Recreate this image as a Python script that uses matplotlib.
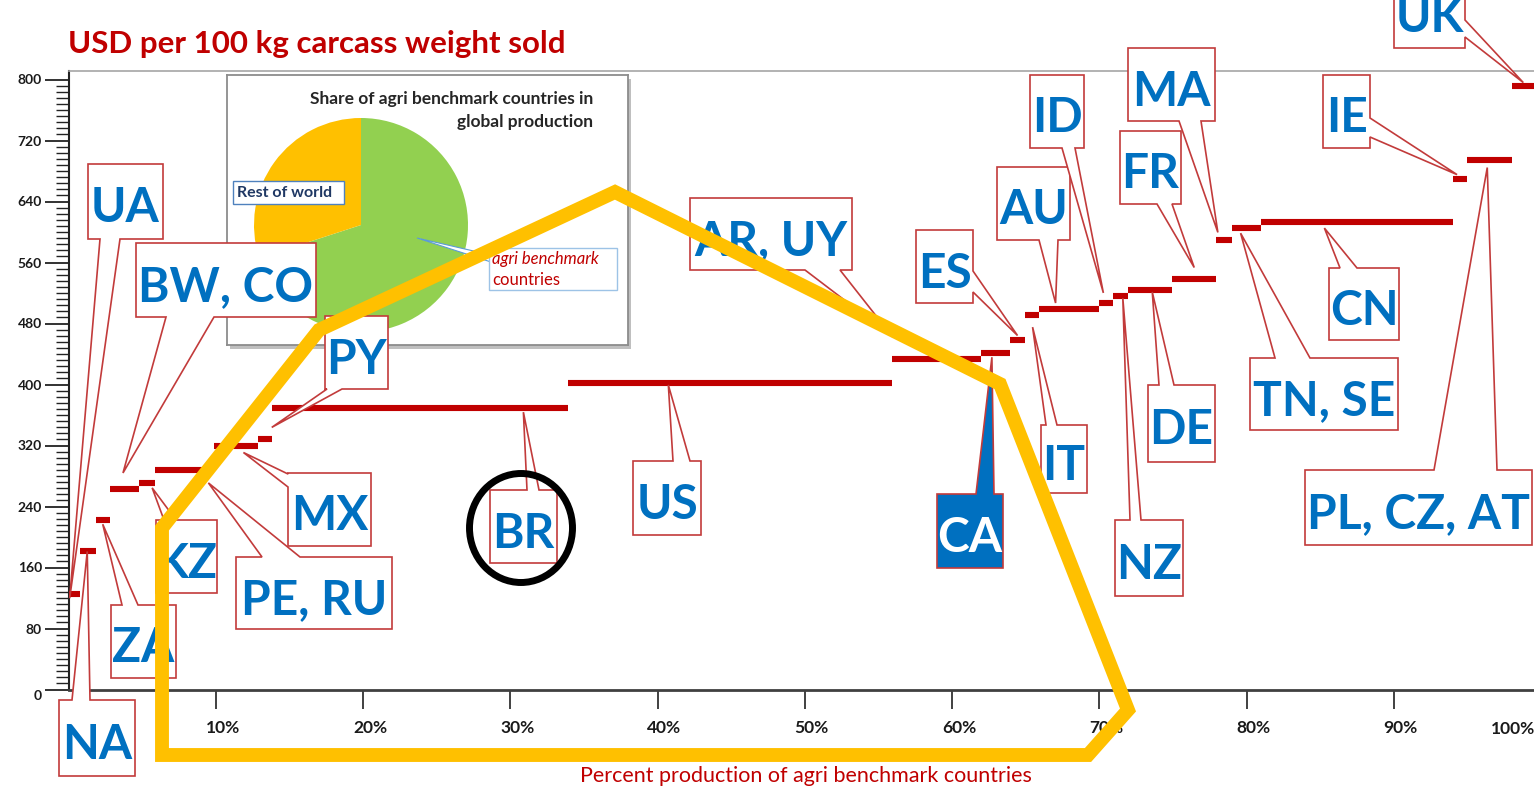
import numpy as np
import matplotlib
matplotlib.use('Agg')
import matplotlib.pyplot as plt
import matplotlib.transforms as mtransforms
from matplotlib.patches import Polygon, Ellipse, Rectangle

# data
countries = ['UA', 'NA', 'ZA', 'BW, CO', 'KZ', 'PE, RU', 'MX', 'PY', 'BR', 'US',
             'AR, UY', 'CA', 'ES', 'IT', 'AU', 'ID', 'NZ', 'DE', 'FR', 'MA',
             'TN, SE', 'CN', 'IE', 'PL, CZ, AT', 'UK']
shares = [0.8, 1.05, 0.95, 2.0, 1.1, 4.0, 3.0, 0.95, 20.05, 22.05,
          6.0, 2.0, 1.0, 0.95, 4.05, 1.0, 1.0, 3.0, 3.0, 1.05,
          2.0, 13.0, 1.0, 3.0, 2.0]
values = [125, 181, 222, 263, 271, 288, 320, 328, 369, 402,
          434, 441, 459, 491, 499, 507, 516, 524, 539, 589,
          605, 613, 670, 695, 792]
pie_labels = ['agri benchmark countries', 'Rest of world']
pie_shares = [70, 30]
y_ticks = list(range(0, 801, 80))
x_ticks = list(range(10, 100, 10))

# callout layout in image pixels: box, side of the pointer, pointer base, spot on bar, y shift
callouts = {
    'UA': ((88, 164, 163, 239), 'bottom', (100, 120), 0.10, 4),
    'NA': ((59, 700, 135, 776), 'top', (72, 90), 0.45, 0),
    'ZA': ((111, 605, 176, 678), 'top', (122, 138), 0.50, 4),
    'BW, CO': ((136, 243, 316, 317), 'bottom', (166, 214), 0.45, -16),
    'KZ': ((156, 520, 217, 593), 'top', (164, 176), 0.80, 5),
    'PE, RU': ((236, 557, 392, 629), 'top', (262, 300), 0.90, 13),
    'MX': ((288, 473, 371, 546), 'left', (474, 487), 0.66, 7),
    'PY': ((325, 316, 388, 389), 'bottom', (327, 342), 0.95, -12),
    'BR': ((490, 490, 557, 563), 'top', (527, 539), 0.85, 4),
    'US': ((633, 461, 701, 535), 'top', (673, 690), 0.31, 2),
    'AR, UY': ((690, 198, 852, 270), 'bottom', (805, 840), 0.0, -22),
    'CA': ((937, 494, 1003, 568), 'top', (976, 994), 0.38, 4),
    'ES': ((916, 230, 973, 303), 'right', (271, 292), 0.50, -4),
    'IT': ((1041, 425, 1087, 493), 'top', (1046, 1057), 0.55, 12),
    'AU': ((997, 167, 1070, 240), 'bottom', (1039, 1058), 0.28, -6),
    'ID': ((1030, 75, 1084, 148), 'bottom', (1062, 1075), 0.33, -10),
    'NZ': ((1115, 520, 1183, 596), 'top', (1130, 1141), 0.65, 2),
    'DE': ((1148, 385, 1215, 462), 'top', (1159, 1174), 0.55, 2),
    'FR': ((1120, 131, 1181, 204), 'bottom', (1157, 1172), 0.50, -11),
    'MA': ((1128, 48, 1215, 121), 'bottom', (1179, 1201), 0.10, -8),
    'TN, SE': ((1250, 358, 1398, 430), 'top', (1275, 1310), 0.30, 5),
    'CN': ((1329, 268, 1399, 340), 'top', (1340, 1357), 0.33, 6),
    'IE': ((1323, 75, 1370, 148), 'right', (118, 137), 0.30, -4),
    'PL, CZ, AT': ((1305, 470, 1532, 545), 'top', (1434, 1497), 0.45, 8),
    'UK': ((1394, -40, 1465, 48), 'right', (20, 37), 0.40, -3),
}

W, H = 1534, 790
RED = '#C00000'
BLUE = '#0070C0'
plt.rcParams['font.family'] = ['Lato', 'DejaVu Sans']

fig = plt.figure(figsize=(W / 100, H / 100), dpi=100)

# main axes: 0 % at x=68.5 px, 100 % at 1541 px; 0 at y=689.5 px, 800 at 79.5 px
x0p, x100p = 68.5, 1541
y0p, y800p, ytopp = 689.5, 79.5, 71
ax = fig.add_axes([x0p / W, (H - y0p) / H, (x100p - x0p) / W, (y0p - ytopp) / H])
ax.set_xlim(0, 100)
ax.set_ylim(0, (y0p - ytopp) / (y0p - y800p) * 800)

ends = np.cumsum(shares)
starts = ends - np.array(shares)
ax.hlines(values, starts, ends, colors=RED, lw=4.4, capstyle='butt', zorder=3)

ax.spines['right'].set_visible(False)
ax.spines['top'].set_color('#A6A6A6')
ax.spines['top'].set_linewidth(1.2)
ax.spines['left'].set_color('#222222')
ax.spines['left'].set_linewidth(1.5)
ax.spines['bottom'].set_color('#404040')
ax.spines['bottom'].set_linewidth(2)

ax.set_yticks(y_ticks)
ax.set_yticks(np.arange(0, 801, 8), minor=True)
ax.set_yticklabels([str(t) for t in y_ticks], fontsize=10, fontweight='bold', color='#1a1a1a')
ax.tick_params(axis='y', which='major', length=17, width=1.3, color='#222222', pad=2)
ax.tick_params(axis='y', which='minor', length=9.5, width=1.0, color='#222222')
ax.get_yticklabels()[0].set_va('top')

ax.set_xticks(x_ticks)
ax.set_xticklabels([f'{t}%' for t in x_ticks], fontsize=12.5, fontweight='bold', color='#1a1a1a')
ax.tick_params(axis='x', which='major', length=14, width=1.3, color='#333333', pad=8)
shift = mtransforms.ScaledTranslation(7 / 100, 0, fig.dpi_scale_trans)
for lbl in ax.get_xticklabels():
    lbl.set_transform(lbl.get_transform() + shift)
fig.text(1513 / W, (H - 729) / H, '100%', ha='center', va='center',
         fontsize=12.5, fontweight='bold', color='#1a1a1a')

fig.text(68 / W, (H - 44) / H, 'USD per 100 kg carcass weight sold', color=RED,
         fontsize=22.5, fontweight='bold', ha='left', va='center')
fig.text(806 / W, (H - 776) / H, 'Percent production of agri benchmark countries',
         color=RED, fontsize=15.5, ha='center', va='center')

# inset pie (coordinates = image pixels, y measured upward)
fig.add_artist(Rectangle((230, H - 349), 401, 270, transform=mtransforms.IdentityTransform(),
                         fc='#BFBFBF', ec='none', zorder=0.5))
ax_in = fig.add_axes([227 / W, (H - 345) / H, 401 / W, 270 / H])
ax_in.set_zorder(1)
ax_in.pie(pie_shares, colors=['#92D050', '#FFC000'], startangle=90, counterclock=False,
          center=(361, H - 225), radius=107, frame=True, wedgeprops=dict(linewidth=0))
ax_in.set_xlim(227, 628)
ax_in.set_ylim(H - 345, H - 75)
ax_in.set_aspect('auto')
ax_in.set_xticks([])
ax_in.set_yticks([])
for s in ax_in.spines.values():
    s.set_color('#8C8C8C')
    s.set_linewidth(1.3)
ax_in.text(593, H - 99, 'Share of agri benchmark countries in', ha='right', va='center',
           fontsize=12.5, fontweight='bold', color='#262626')
ax_in.text(593, H - 122, 'global production', ha='right', va='center',
           fontsize=12.5, fontweight='bold', color='#262626')
ax_in.add_patch(Polygon([(417, H - 238), (491, H - 255), (491, H - 262)], closed=True,
                        fc='white', ec='#5B9BD5', lw=0.8))
ax_in.add_patch(Rectangle((233, H - 204), 111, 23, fc='white', ec='#4F81BD', lw=1))
ax_in.text(237, H - 193, pie_labels[1], ha='left', va='center', fontsize=11.5,
           fontweight='bold', color='#1F3864')
ax_in.add_patch(Rectangle((489, H - 290), 128, 42, fc='white', ec='#9DC3E6', lw=1))
ax_in.text(492, H - 259, 'agri benchmark', ha='left', va='center', fontsize=12,
           style='italic', color=RED)
ax_in.text(492, H - 280, 'countries', ha='left', va='center', fontsize=12, color=RED)

# overlay in image pixels (y downward)
ov = fig.add_axes([0, 0, 1, 1])
ov.set_xlim(0, W)
ov.set_ylim(H, 0)
ov.axis('off')
ov.set_zorder(3)


def to_img(x, v):
    dx, dy = ax.transData.transform((x, v))
    return dx, H - dy


def callout(name, box, side, base, apex, fill, tcolor):
    bx0, by0, bx1, by1 = box
    a, b = base
    if side == 'bottom':
        pts = [(bx0, by0), (bx1, by0), (bx1, by1), (b, by1), apex, (a, by1), (bx0, by1)]
    elif side == 'top':
        pts = [(bx0, by0), (a, by0), apex, (b, by0), (bx1, by0), (bx1, by1), (bx0, by1)]
    elif side == 'left':
        pts = [(bx0, by0), (bx1, by0), (bx1, by1), (bx0, by1), (bx0, b), apex, (bx0, a)]
    else:
        pts = [(bx0, by0), (bx1, by0), (bx1, a), apex, (bx1, b), (bx1, by1), (bx0, by1)]
    ov.add_patch(Polygon(pts, closed=True, fc=fill, ec='#C23B3B', lw=1.2,
                         joinstyle='miter', zorder=2))
    cx = (bx0 + bx1) / 2
    base_y = 32 if name == 'UK' else (by0 + by1) / 2 + 21
    ov.text(cx, base_y, name, ha='center', va='baseline', fontsize=34.5,
            fontweight='bold', color=tcolor, zorder=3)


for i, name in enumerate(countries):
    box, side, base, f, dy = callouts[name]
    px, py = to_img(starts[i] + f * shares[i], values[i])
    fill, tcolor = ('#0070C0', 'white') if name == 'CA' else ('white', BLUE)
    callout(name, box, side, base, (px, py + dy), fill, tcolor)

# yellow outline and BR circle
ov.add_patch(Polygon([(162, 755), (162, 528), (319, 330), (615, 192), (1000, 384),
                      (1128, 710), (1088, 755)], closed=True, fill=False,
                     ec='#FFC000', lw=10, joinstyle='miter', zorder=5))
ov.add_patch(Ellipse((521, 528), 103, 109, fill=False, ec='black', lw=5, zorder=6))

fig.savefig('out.png', dpi=100, facecolor='white')
